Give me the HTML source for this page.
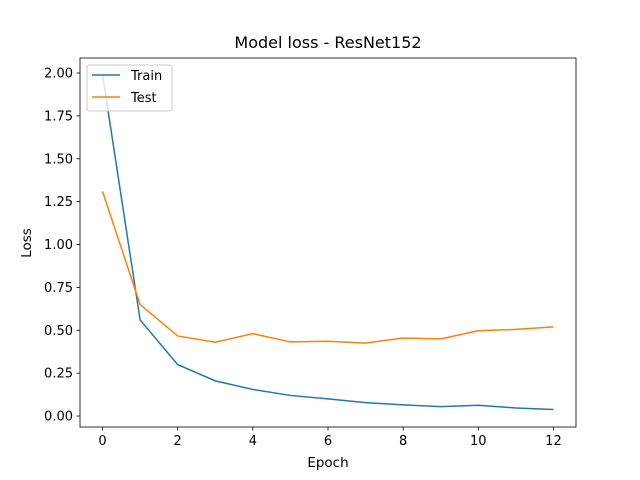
<!DOCTYPE html>
<html><head><meta charset="utf-8"><style>
body{margin:0;background:#fff;}
svg{display:block;font-family:"DejaVu Sans","Liberation Sans",sans-serif;}
</style></head><body>
<svg id="chart" width="640" height="480" viewBox="0 0 640 480">
<rect x="0" y="0" width="640" height="480" fill="#fff"/>
<text x="328" y="48" font-size="16" text-anchor="middle">Model loss - ResNet152</text>
<g id="plot"></g>
<text x="328" y="467" font-size="13.5" text-anchor="middle">Epoch</text>
<text x="31" y="243" font-size="13.5" text-anchor="middle" transform="rotate(-90 31 243)">Loss</text>
</svg>
<script>
const epochs=[0,1,2,3,4,5,6,7,8,9,10,11,12];
const trainLoss=[1.99,0.56,0.30,0.205,0.155,0.12,0.10,0.078,0.065,0.055,0.063,0.047,0.038];
const testLoss=[1.31,0.65,0.467,0.43,0.48,0.432,0.436,0.425,0.455,0.45,0.497,0.505,0.52];
const xTicks=[0,2,4,6,8,10,12];
const yTicks=[0,0.25,0.5,0.75,1.0,1.25,1.5,1.75,2.0];
const L=80,R=576,T=58,B=427;
const xMin=-0.6,xMax=12.6,yMin=-0.064,yMax=2.0875;
const sx=v=>L+(v-xMin)/(xMax-xMin)*(R-L);
const sy=v=>B-(v-yMin)/(yMax-yMin)*(B-T);
const NS='http://www.w3.org/2000/svg';
const g=document.getElementById('plot');
function mk(t,a){const e=document.createElementNS(NS,t);for(const k in a)e.setAttribute(k,a[k]);g.appendChild(e);return e;}
xTicks.forEach(v=>{
 const l=mk('line',{x1:sx(v),x2:sx(v),y1:B,y2:B+3.5,stroke:'#000','stroke-width':0.8});
 
 
 const t=mk('text',{x:sx(v),y:B+18,'font-size':13,'text-anchor':'middle'});t.textContent=v;
 
 
});
yTicks.forEach(v=>{
 const l=mk('line',{x1:L-3.5,x2:L,y1:sy(v),y2:sy(v),stroke:'#000','stroke-width':0.8});
 
 
 const t=mk('text',{x:L-7,y:sy(v)+4.5,'font-size':13,'text-anchor':'end'});t.textContent=v.toFixed(2);
 
 
});
function line(vals,color,name){
 const p=mk('polyline',{points:vals.map((v,i)=>sx(epochs[i])+','+sy(v)).join(' '),fill:'none',stroke:color,'stroke-width':1.5});
 
 
}
line(trainLoss,'#1f77b4','train-line');
line(testLoss,'#ff7f0e','test-line');
const fr=mk('rect',{x:L,y:T,width:R-L,height:B-T,fill:'none',stroke:'#000','stroke-width':0.8});


const lg=mk('rect',{x:87,y:65,width:85,height:46,fill:'#fff','fill-opacity':0.8,stroke:'#ccc',rx:2});


[['Train','#1f77b4',75],['Test','#ff7f0e',97]].forEach(([n,c,y])=>{
 const l=mk('line',{x1:92,x2:120,y1:y,y2:y,stroke:c,'stroke-width':1.5});
 
 
 const t=mk('text',{x:131,y:y+5,'font-size':13});t.textContent=n;
 
 
});
</script>
</body></html>
